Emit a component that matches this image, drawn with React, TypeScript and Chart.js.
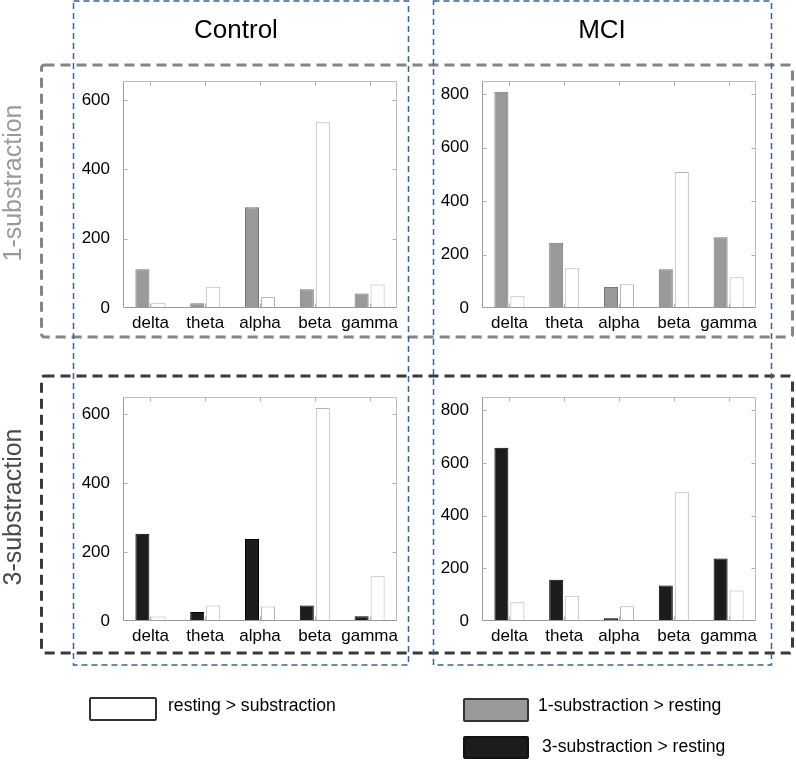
import React, { useEffect, useRef } from "react";
import { Chart, registerables } from "chart.js";

Chart.register(...registerables);

const CATEGORIES = ["delta", "theta", "alpha", "beta", "gamma"];

const CONTROL_1SUB = [112, 14, 291, 54, 42];
const CONTROL_1SUB_REST = [15, 61, 32, 536, 68];
const MCI_1SUB = [810, 244, 79, 145, 265];
const MCI_1SUB_REST = [44, 149, 89, 509, 115];
const CONTROL_3SUB = [253, 26, 238, 45, 14];
const CONTROL_3SUB_REST = [13, 45, 42, 618, 130];
const MCI_3SUB = [657, 157, 10, 135, 237];
const MCI_3SUB_REST = [71, 96, 56, 489, 116];

const Y_MAX_CONTROL_1 = 655;
const Y_MAX_MCI_1 = 850;
const Y_MAX_CONTROL_3 = 650;
const Y_MAX_MCI_3 = 850;
const Y_STEP = 200;

const FONT = "'Liberation Sans', Arial, Helvetica, sans-serif";

const GRAY_FILL = "#999999";
const GRAY_BORDER = "#767676";
const BLACK_FILL = "#1c1c1c";
const BLACK_BORDER = "#000000";
const WHITE_FILL = "#ffffff";
const WHITE_BORDER = "#b4b4b4";

const framePlugin = {
  id: "matlabFrame",
  afterDatasetsDraw(chart: any) {
    const { ctx, chartArea } = chart;
    const { left, right, top, bottom } = chartArea;
    const L = Math.round(left) + 0.5;
    const R = Math.round(right) - 0.5;
    const T = Math.round(top) + 0.5;
    const B = Math.round(bottom) - 0.5;
    ctx.save();
    ctx.lineWidth = 1;
    ctx.strokeStyle = "#bdbdbd";
    ctx.beginPath();
    ctx.moveTo(L, T);
    ctx.lineTo(R, T);
    ctx.lineTo(R, B);
    ctx.stroke();
    ctx.strokeStyle = "#9a9a9a";
    ctx.beginPath();
    ctx.moveTo(L, T);
    ctx.lineTo(L, B);
    ctx.lineTo(R, B);
    ctx.stroke();
    ctx.strokeStyle = "#b0b0b0";
    const ys = chart.scales.y;
    ys.ticks.forEach((t: any) => {
      if (t.value === 0) return;
      const py = Math.round(ys.getPixelForValue(t.value)) + 0.5;
      ctx.beginPath();
      ctx.moveTo(L, py);
      ctx.lineTo(L + 4, py);
      ctx.moveTo(R, py);
      ctx.lineTo(R - 4, py);
      ctx.stroke();
    });
    const xs = chart.scales.x;
    CATEGORIES.forEach((_c, i) => {
      const px = Math.round(xs.getPixelForValue(i)) + 0.5;
      ctx.beginPath();
      ctx.moveTo(px, B);
      ctx.lineTo(px, B - 4);
      ctx.moveTo(px, T);
      ctx.lineTo(px, T + 4);
      ctx.stroke();
    });
    ctx.restore();
  },
};

type PanelSpec = {
  key: string;
  sub: number[];
  rest: number[];
  yMax: number;
  fill: string;
  border: string;
  left: number;
  top: number;
  right: number;
  bottom: number;
};

const PAD_LEFT = 50;
const PAD_TOP = 12;
const PAD_RIGHT = 8;
const PAD_BOTTOM = 34;

const PANELS: PanelSpec[] = [
  { key: "c1", sub: CONTROL_1SUB, rest: CONTROL_1SUB_REST, yMax: Y_MAX_CONTROL_1, fill: GRAY_FILL, border: GRAY_BORDER, left: 123, top: 81, right: 397, bottom: 308 },
  { key: "m1", sub: MCI_1SUB, rest: MCI_1SUB_REST, yMax: Y_MAX_MCI_1, fill: GRAY_FILL, border: GRAY_BORDER, left: 482, top: 81, right: 756, bottom: 308 },
  { key: "c3", sub: CONTROL_3SUB, rest: CONTROL_3SUB_REST, yMax: Y_MAX_CONTROL_3, fill: BLACK_FILL, border: BLACK_BORDER, left: 123, top: 397, right: 397, bottom: 621 },
  { key: "m3", sub: MCI_3SUB, rest: MCI_3SUB_REST, yMax: Y_MAX_MCI_3, fill: BLACK_FILL, border: BLACK_BORDER, left: 482, top: 397, right: 756, bottom: 621 },
];

function Panel({ spec }: { spec: PanelSpec }) {
  const ref = useRef<HTMLCanvasElement | null>(null);
  const w = spec.right - spec.left + PAD_LEFT + PAD_RIGHT;
  const h = spec.bottom - spec.top + PAD_TOP + PAD_BOTTOM;
  useEffect(() => {
    if (!ref.current) return;
    const chart = new Chart(ref.current, {
      type: "bar",
      data: {
        labels: CATEGORIES,
        datasets: [
          {
            label: "substraction > resting",
            data: spec.sub,
            backgroundColor: spec.fill,
            borderColor: spec.border,
            borderWidth: 1,
            categoryPercentage: 0.584,
            barPercentage: 0.875,
          },
          {
            label: "resting > substraction",
            data: spec.rest,
            backgroundColor: WHITE_FILL,
            borderColor: WHITE_BORDER,
            borderWidth: 1,
            categoryPercentage: 0.584,
            barPercentage: 0.875,
          },
        ],
      },
      options: {
        animation: false,
        responsive: false,
        maintainAspectRatio: false,
        devicePixelRatio: 1,
        layout: { padding: { left: 0, top: PAD_TOP, right: PAD_RIGHT, bottom: 0 } },
        plugins: { legend: { display: false }, tooltip: { enabled: false }, title: { display: false } },
        scales: {
          x: {
            grid: { display: false, drawTicks: false },
            border: { display: false },
            ticks: { color: "#000", font: { family: FONT, size: 17 }, padding: 5, maxRotation: 0, autoSkip: false },
            afterFit: (s: any) => {
              s.height = PAD_BOTTOM;
              s.paddingLeft = 0;
              s.paddingRight = 0;
            },
          },
          y: {
            min: 0,
            max: spec.yMax,
            grid: { display: false, drawTicks: false },
            border: { display: false },
            ticks: { stepSize: Y_STEP, includeBounds: false, color: "#000", font: { family: FONT, size: 17 }, padding: 13 },
            afterFit: (s: any) => {
              s.width = PAD_LEFT;
              s.paddingTop = 0;
              s.paddingBottom = 0;
            },
          },
        },
      },
      plugins: [framePlugin],
    } as any);
    return () => chart.destroy();
  }, [spec]);
  return (
    <canvas
      ref={ref}
      width={w}
      height={h}
      style={{ position: "absolute", left: spec.left - PAD_LEFT, top: spec.top - PAD_TOP, width: w, height: h }}
    />
  );
}

export default function App() {
  const textBase: React.CSSProperties = { position: "absolute", fontFamily: FONT, color: "#000", whiteSpace: "nowrap", lineHeight: 1 };
  return (
    <div style={{ position: "absolute", left: 0, top: 0, width: 796, height: 762, background: "#fff", overflow: "hidden" }}>
      {PANELS.map((p) => (
        <Panel key={p.key} spec={p} />
      ))}
      <svg width={796} height={762} style={{ position: "absolute", left: 0, top: 0, pointerEvents: "none" }}>
        <rect x={41.5} y={65} width={751} height={272} rx={3} fill="none" stroke="#858585" strokeWidth={3} strokeDasharray="10 6" />
        <rect x={41.5} y={376} width={751} height={277} rx={3} fill="none" stroke="#3a3a3a" strokeWidth={3} strokeDasharray="10 6" />
        <rect x={73.5} y={1} width={335} height={664} fill="none" stroke="#3d6190" strokeWidth={1.5} strokeDasharray="6 4" />
        <rect x={433.5} y={1} width={338} height={664} fill="none" stroke="#3d6190" strokeWidth={1.5} strokeDasharray="6 4" />
      </svg>
      <div style={{ ...textBase, left: 236, top: 29, fontSize: 26, transform: "translate(-50%, -50%)" }}>Control</div>
      <div style={{ ...textBase, left: 602, top: 29, fontSize: 26, transform: "translate(-50%, -50%)" }}>MCI</div>
      <div style={{ ...textBase, left: 12, top: 183, fontSize: 25, color: "#9a9a9a", transform: "translate(-50%, -50%) rotate(-90deg)" }}>1-substraction</div>
      <div style={{ ...textBase, left: 12, top: 507, fontSize: 25, color: "#4a4a4a", transform: "translate(-50%, -50%) rotate(-90deg)" }}>3-substraction</div>

      <div style={{ position: "absolute", left: 89, top: 697, width: 64, height: 20, border: "2px solid #333", borderRadius: 2, background: WHITE_FILL }} />
      <div style={{ ...textBase, left: 168, top: 706, fontSize: 17.6, transform: "translateY(-50%)" }}>resting &gt; substraction</div>

      <div style={{ position: "absolute", left: 463, top: 698, width: 62, height: 20, border: "2px solid #333", borderRadius: 2, background: GRAY_FILL }} />
      <div style={{ ...textBase, left: 538, top: 706, fontSize: 17.6, transform: "translateY(-50%)" }}>1-substraction &gt; resting</div>

      <div style={{ position: "absolute", left: 463, top: 736, width: 62, height: 19, border: "2px solid #111", borderRadius: 2, background: BLACK_FILL }} />
      <div style={{ ...textBase, left: 542, top: 747, fontSize: 17.6, transform: "translateY(-50%)" }}>3-substraction &gt; resting</div>
    </div>
  );
}
